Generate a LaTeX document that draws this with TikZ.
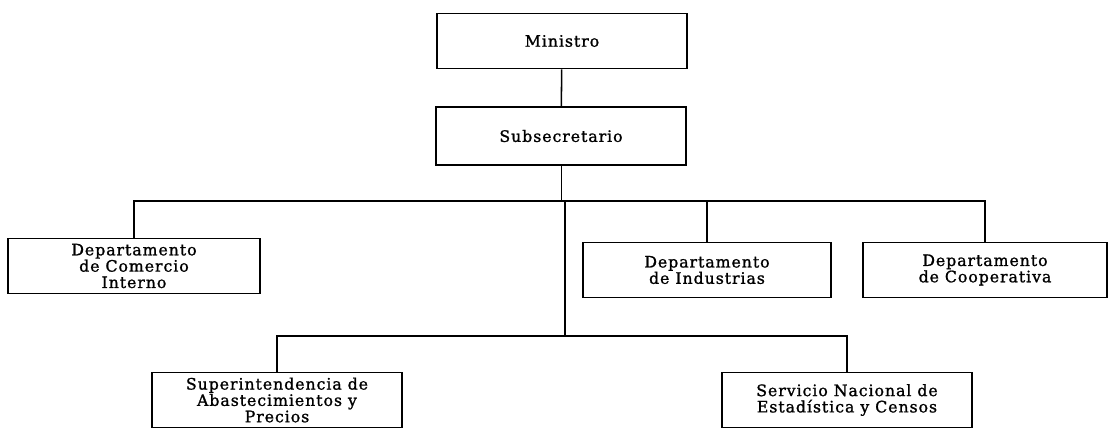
\documentclass[tikz,border=0pt]{standalone}
\usepackage{fontspec}
\setmainfont{DejaVu Serif}
\newfontfamily\typefont[LetterSpace=6,FakeBold=1.2]{DejaVu Serif}
\usepackage{tikz}
\usetikzlibrary{positioning,calc}

\begin{document}
\begin{tikzpicture}[
    x=0.025cm, y=-0.025cm,
    box/.style={
        draw,
        line width=1.1pt,
        minimum width=6.25cm,
        minimum height=1.375cm,
        inner sep=1pt,
        align=center,
        font=\typefont\fontsize{11.2}{11.6}\selectfont
    },
    link/.style={line width=1.1pt}
]
\useasboundingbox (0,0) rectangle (1111,428);

\node[box] (min) at (562,41) {Ministro};
\node[box, minimum height=1.45cm] (sub) at (561,136) {Subsecretario};

\node[box, minimum width=6.3cm] (com) at (134,266) {Departamento\\de Comercio\\Interno};
\node[box, minimum width=6.2cm] (ind) at (707,270) {Departamento\\de Industrias};
\node[box, minimum width=6.1cm] (coop) at (985,270) {Departamento\\de Cooperativa};

\node[box] (sup) at (277,400) {Superintendencia de\\Abastecimientos y\\Precios};
\node[box] (serv) at (847,400) {Servicio Nacional de\\Estadística y Censos};

\coordinate (hub) at (565,201);
\coordinate (hub2) at (565,336);

\draw[link] (min) -- (sub);
\draw[link, line width=0.6pt] (sub.south) -- (sub.south |- hub);
\draw[link] (com.north) -- (com.north |- hub) -- (coop.north |- hub) -- (coop.north);
\draw[link] (ind.north |- hub) -- (ind.north);
\draw[link] (hub) -- (hub2);
\draw[link] (sup.north) -- (sup.north |- hub2) -- (serv.north |- hub2) -- (serv.north);
\end{tikzpicture}
\end{document}
